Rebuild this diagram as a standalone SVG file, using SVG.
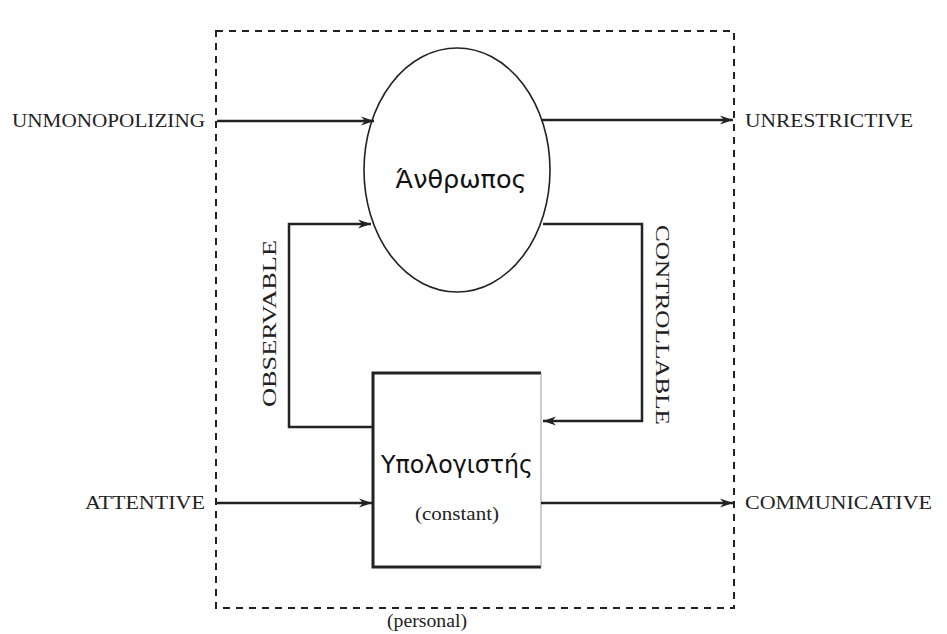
<svg xmlns="http://www.w3.org/2000/svg" width="947" height="634" viewBox="0 0 947 634">
<style>
.lbl{font-family:"Liberation Serif","Times New Roman",serif;font-size:18px;fill:#222}
.greek{font-family:"DejaVu Sans","Noto Sans",sans-serif;font-size:24px;fill:#111}
.ln{fill:none;stroke:#222;stroke-width:2.5}
</style>
<defs>
<marker id="ah" markerWidth="14" markerHeight="10" refX="13" refY="5" orient="auto" markerUnits="userSpaceOnUse">
<path d="M0,0.5 L13,5 L0,9.5 L4,5 Z" fill="#222"/>
</marker>
</defs>
<rect width="947" height="634" fill="#fff"/>
<g id="boundary">
<rect x="216" y="31" width="518" height="577" fill="none" stroke="#222" stroke-width="2" stroke-dasharray="7,6"/>
<text class="lbl" x="427" y="627" text-anchor="middle" textLength="80" lengthAdjust="spacingAndGlyphs">(personal)</text>
</g>
<g id="human">
<ellipse cx="457" cy="170" rx="93" ry="122" fill="none" stroke="#222" stroke-width="1.6"/>
<text class="greek" x="461" y="188" text-anchor="middle" textLength="131" lengthAdjust="spacingAndGlyphs">Άνθρωπος</text>
</g>
<g id="computer">
<path d="M541,373 L373,373 L373,567 L541,567" fill="none" stroke="#222" stroke-width="3"/>
<path d="M541,373 L541,567" fill="none" stroke="#999" stroke-width="1"/>
<text class="greek" x="457" y="473" text-anchor="middle" textLength="152" lengthAdjust="spacingAndGlyphs">Υπολογιστής</text>
<text class="lbl" x="457" y="520" text-anchor="middle" font-size="17" textLength="84" lengthAdjust="spacingAndGlyphs">(constant)</text>
</g>
<g id="connectors">
<path class="ln" d="M217,121 L374,121" marker-end="url(#ah)"/>
<path class="ln" d="M541,120 L733,120" marker-end="url(#ah)"/>
<path class="ln" d="M373,427 L289,427 L289,224 L371,224" marker-end="url(#ah)"/>
<path class="ln" d="M543,224 L642,224 L642,421 L543,421" marker-end="url(#ah)"/>
<path class="ln" d="M217,503 L372,503" marker-end="url(#ah)"/>
<path class="ln" d="M541,503 L733,503" marker-end="url(#ah)"/>
</g>
<g id="labels">
<text class="lbl" x="205" y="127" text-anchor="end" textLength="193" lengthAdjust="spacingAndGlyphs">UNMONOPOLIZING</text>
<text class="lbl" x="745" y="127" textLength="168" lengthAdjust="spacingAndGlyphs">UNRESTRICTIVE</text>
<text class="lbl" x="205" y="509" text-anchor="end" textLength="120" lengthAdjust="spacingAndGlyphs">ATTENTIVE</text>
<text class="lbl" x="745" y="509" textLength="187" lengthAdjust="spacingAndGlyphs">COMMUNICATIVE</text>
<text class="lbl" transform="translate(276,407) rotate(-90)" textLength="167" lengthAdjust="spacingAndGlyphs">OBSERVABLE</text>
<text class="lbl" transform="translate(656,225) rotate(90)" textLength="200" lengthAdjust="spacingAndGlyphs">CONTROLLABLE</text>
</g>
</svg>
